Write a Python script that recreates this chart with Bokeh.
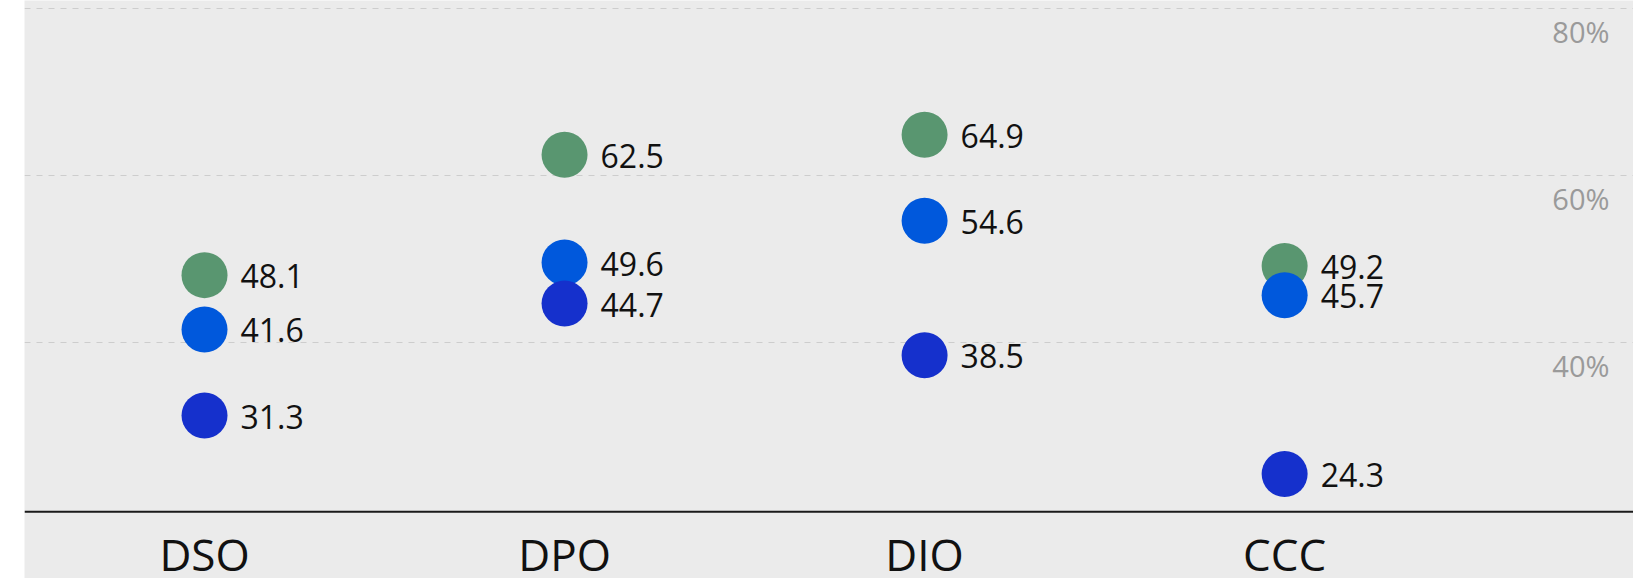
from bokeh.plotting import figure
from bokeh.models import ColumnDataSource, FixedTicker, Range1d, Spacer, Span
from bokeh.layouts import row
from bokeh.core.properties import value
from bokeh.embed import file_html
from bokeh.resources import INLINE

# ---- data ----
categories = ["DSO", "DPO", "DIO", "CCC"]
series_green = [48.1, 62.5, 64.9, 49.2]
series_blue = [41.6, 49.6, 54.6, 45.7]
series_dark = [31.3, 44.7, 38.5, 24.3]
y_ticks = [40, 60, 80]
y_tick_labels = ["40%", "60%", "80%"]
axis_min = 19.8

colors = ["#599670", "#0058DC", "#1530CC"]
BG = "#EBEBEB"
FONT = "Open Sans"

xs = [i + 0.5 for i in range(len(categories))]

x_range = Range1d(0, 4.469)
y_range = Range1d(11.8, 80.96)

p = figure(width=1609, height=578, x_range=x_range, y_range=y_range,
           output_backend="svg", toolbar_location=None,
           x_axis_location=None, y_axis_location=None,
           min_border_left=0, min_border_right=0, min_border_top=0,
           min_border_bottom=0)
p.background_fill_color = BG
p.border_fill_color = BG
p.outline_line_color = None

# grid
p.xgrid.visible = False
p.ygrid.ticker = FixedTicker(ticks=y_ticks)
p.ygrid.grid_line_color = "#CDCDCD"
p.ygrid.grid_line_width = 1
p.ygrid.grid_line_dash = "6 6"

# baseline (x axis line)
p.add_layout(Span(location=axis_min, dimension="width", line_color="#1a1a1a", line_width=2))

# category labels under the baseline
csrc = ColumnDataSource(dict(x=xs, y=[axis_min] * len(xs), t=categories))
p.text(x="x", y="y", text="t", source=csrc, text_font=value(FONT),
       text_font_size="44px", text_color="#111111", text_align="center",
       text_baseline="alphabetic", y_offset=42)

# y tick labels drawn inside the plot on the right
ysrc = ColumnDataSource(dict(x=[x_range.end] * len(y_ticks), y=y_ticks, t=y_tick_labels))
p.text(x="x", y="y", text="t", source=ysrc, text_font=value(FONT),
       text_font_size="29px", text_color="#9A9A9A", text_align="right",
       text_baseline="middle", x_offset=-24, y_offset=23)

# series
for vals, col in zip([series_green, series_blue, series_dark], colors):
    src = ColumnDataSource(dict(x=xs, y=vals))
    p.scatter(x="x", y="y", source=src, size=46, fill_color=col, line_color=None)
for vals in [series_green, series_blue, series_dark]:
    src = ColumnDataSource(dict(x=xs, y=vals, t=[f"{v:.1f}" for v in vals]))
    p.text(x="x", y="y", text="t", source=src, text_font=value(FONT),
           text_font_size="32px", text_color="#111111", text_align="left",
           text_baseline="middle", x_offset=36, y_offset=1)

layout = row(Spacer(width=24, height=578), p)
open("out.html", "w").write(file_html(layout, INLINE))
